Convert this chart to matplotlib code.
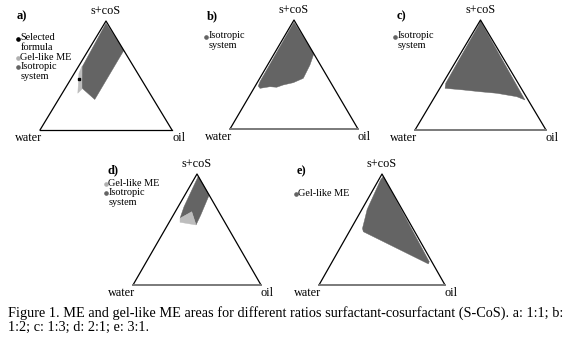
import numpy as np
import matplotlib
matplotlib.use("Agg")
import matplotlib.pyplot as plt

plt.rcParams['font.family'] = ['Liberation Serif', 'DejaVu Serif']

W, H = 575, 352
DARK = '#646464'
LIGHT = '#bdbdbd'

# compositions as (water, oil, s+coS) fractions
a_iso = [(0.01, 0.01, 0.98), (0.00, 0.27, 0.73), (0.445, 0.275, 0.28),
         (0.49, 0.125, 0.385), (0.39, 0.03, 0.58)]
a_gel = [(0.39, 0.025, 0.585), (0.445, 0.035, 0.52), (0.545, 0.118, 0.337),
         (0.494, 0.13, 0.376)]
a_selected = (0.47, 0.06, 0.47)

b_iso = [(0.01, 0.01, 0.98), (0.00, 0.31, 0.69), (0.082, 0.331, 0.587),
         (0.195, 0.34, 0.465), (0.293, 0.282, 0.425), (0.382, 0.214, 0.404),
         (0.444, 0.173, 0.383), (0.494, 0.118, 0.388), (0.579, 0.048, 0.373),
         (0.582, 0.024, 0.394), (0.549, 0.017, 0.434), (0.03, 0.01, 0.96)]

c_iso = [(0.005, 0.005, 0.99), (0.024, 0.703, 0.273), (0.072, 0.625, 0.303),
         (0.209, 0.457, 0.334), (0.33, 0.322, 0.348), (0.449, 0.187, 0.364),
         (0.581, 0.04, 0.379), (0.553, 0.022, 0.425), (0.04, 0.01, 0.95)]

d_iso = [(0.0, 0.02, 0.98), (0.0, 0.19, 0.81), (0.155, 0.214, 0.631),
         (0.237, 0.222, 0.541), (0.211, 0.129, 0.66), (0.332, 0.067, 0.601),
         (0.249, 0.046, 0.705)]
d_gel = [(0.332, 0.067, 0.601), (0.211, 0.129, 0.66), (0.237, 0.222, 0.541),
         (0.35, 0.085, 0.565)]

e_gel = [(0.0, 0.02, 0.98), (0.02, 0.77, 0.21), (0.037, 0.773, 0.19),
         (0.408, 0.112, 0.48), (0.40, 0.09, 0.51), (0.335, 0.065, 0.60),
         (0.278, 0.042, 0.68), (0.035, 0.015, 0.95)]

# triangle corners in pixels: left x, right x, base y, apex y
frames = {'a': (40, 172, 130, 21), 'b': (230, 358, 129, 20),
          'c': (415, 546, 130, 20), 'd': (133, 261, 285, 174),
          'e': (319, 445, 285, 174)}


def tern(pts):
    p = np.array(pts, dtype=float)
    p = p / p.sum(axis=1, keepdims=True)
    return p[:, 1] + p[:, 2] / 2, p[:, 2]


def ftext(x, y, s, **kw):
    fig.text(x / W, 1 - y / H, s, **kw)


fig = plt.figure(figsize=(W / 100, H / 100), dpi=100)
axes = {}
for key, (x0, x1, yb, ya) in frames.items():
    ax = fig.add_axes([x0 / W, 1 - yb / H, (x1 - x0) / W, (yb - ya) / H])
    ax.set_xlim(0, 1)
    ax.set_ylim(0, 1)
    ax.axis('off')
    axes[key] = ax

for key, regions in [('a', [(a_iso, DARK), (a_gel, LIGHT)]),
                     ('b', [(b_iso, DARK)]),
                     ('c', [(c_iso, DARK)]),
                     ('d', [(d_iso, DARK), (d_gel, LIGHT)]),
                     ('e', [(e_gel, DARK)])]:
    ax = axes[key]
    for pts, col in regions:
        x, y = tern(pts)
        ax.fill(x, y, color=col, lw=0.3, ec=col)
    ax.plot([0, 0.5, 1], [0, 1, 0], color='k', lw=0.9, clip_on=False)
    base = 'k' if key == 'a' else '#7a7a7a'
    ax.plot([0, 1], [0, 0], color=base, lw=0.9 if key == 'a' else 1.4,
            clip_on=False)
    ax.text(0.5, 1.035, 's+coS', transform=ax.transAxes, ha='center',
            va='bottom', fontsize=8.8)
    ax.text(-0.09, -0.02, 'water', transform=ax.transAxes, ha='center',
            va='top', fontsize=8.8)
    ax.text(1.05, -0.02, 'oil', transform=ax.transAxes, ha='center',
            va='top', fontsize=8.8)

sx, sy = tern([a_selected])
axes['a'].plot(sx, sy, 's', color='k', ms=1.6)

# panel letters
for key, (x, y) in {'a': (17, 16), 'b': (207, 16), 'c': (397, 16),
                    'd': (107, 170), 'e': (297, 171)}.items():
    ftext(x, y, key + ')', fontsize=9, fontweight='bold', va='center')


def legend(x, y, entries, step=9.6):
    for i, (txt, col) in enumerate(entries):
        yy = y + i * step
        if col is not None:
            fig.lines.append(plt.Line2D([(x + 2) / W], [1 - (yy + 0.5) / H],
                                        marker='o', ms=2.3, color=col, lw=0,
                                        transform=fig.transFigure))
        ftext(x + 4.5, yy, txt, fontsize=7.4, va='center')


legend(16, 38, [('Selected', 'k'), ('formula', None), ('Gel-like ME', '#b0b0b0'),
                ('Isotropic', DARK), ('system', None)])
legend(204, 36, [('Isotropic', DARK), ('system', None)])
legend(393, 36, [('Isotropic', DARK), ('system', None)])
legend(104, 183, [('Gel-like ME', '#b0b0b0'), ('Isotropic', DARK),
                  ('system', None)])
legend(294, 193, [('Gel-like ME', DARK)])

ftext(8, 313, 'Figure 1. ME and gel-like ME areas for different ratios '
      'surfactant-cosurfactant (S-CoS). a: 1:1; b:', fontsize=10.3, va='center')
ftext(8, 327, '1:2; c: 1:3; d: 2:1; e: 3:1.', fontsize=10.3, va='center')

fig.savefig('out.png', dpi=100)
